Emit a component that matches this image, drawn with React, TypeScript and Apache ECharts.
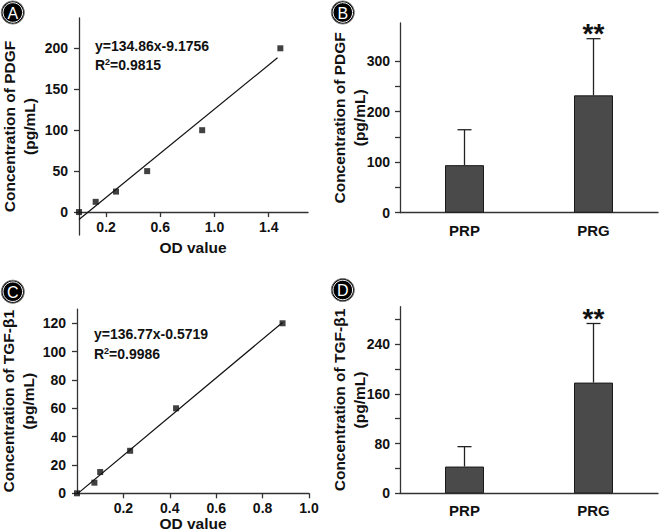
import React, { useEffect, useRef } from "react";
import * as echarts from "echarts";

// Panel A: PDGF standard curve
const pdgfOD = [0, 0.123, 0.273, 0.503, 0.909, 1.486];
const pdgfConc = [0, 12.5, 25, 50, 100, 200];
const pdgfFitOD = [0, 1.465];
const pdgfFitConc = [-9.18, 188.4];
const pdgfEquation = "y=134.86x-9.1756";
const pdgfR2 = "0.9815";
const pdgfXTicks = [0.2, 0.6, 1.0, 1.4];
const pdgfYTicks = [0, 50, 100, 150, 200];

// Panel C: TGF-β1 standard curve
const tgfOD = [0, 0.075, 0.1, 0.229, 0.427, 0.886];
const tgfConc = [0, 7.5, 15, 30, 60, 120];
const tgfFitOD = [0, 0.886];
const tgfFitConc = [-0.57, 120.6];
const tgfEquation = "y=136.77x-0.5719";
const tgfR2 = "0.9986";
const tgfXTicks = [0.2, 0.4, 0.6, 0.8, 1.0];
const tgfYTicks = [0, 20, 40, 60, 80, 100, 120];

// Panels B and D: bars
const groups = ["PRP", "PRG"];
const pdgfMean = [94, 232];
const pdgfSD = [70, 112];
const tgfMean = [43, 178];
const tgfSD = [32, 95];
const significance = ["", "**"];
const pdgfBarTicks = [0, 50, 100, 150, 200, 250, 300];
const pdgfBarLabels = [0, 100, 200, 300];
const tgfBarTicks = [0, 40, 80, 120, 160, 200, 240, 280];
const tgfBarLabels = [0, 80, 160, 240];

const xTitle = "OD value";

const FONT = '"Liberation Sans", Arial, sans-serif';
const TXT = "#111";
const AX = "#333";

const axisLine = { show: true, onZero: true, lineStyle: { color: AX, width: 1.3 } };
const tickStyle = (vals: number[]) => ({ show: true, length: 5, customValues: vals, lineStyle: { color: AX, width: 1.3 } });
const labelStyle = (vals: number[] | null, margin: number, fmt?: (v: number) => string) => {
  const o: any = { color: TXT, fontFamily: FONT, fontWeight: "bold", fontSize: 14, margin };
  if (vals) o.customValues = vals;
  if (fmt) o.formatter = fmt;
  return o;
};
const nameStyle = { color: TXT, fontFamily: FONT, fontWeight: "bold", fontSize: 15.5 };
const yNameStyle = { color: TXT, fontFamily: FONT, fontWeight: "bold", fontSize: 15.5, lineHeight: 20 };

function errorSeries(xIdx: number, yIdx: number, mean: number[], sd: number[]) {
  return {
    type: "custom",
    xAxisIndex: xIdx,
    yAxisIndex: yIdx,
    z: 3,
    data: groups.map((g, i) => [i, mean[i], sd[i]]),
    renderItem: (params: any, api: any) => {
      const i = params.dataIndex;
      const m = api.value(1);
      const e = api.value(2);
      const base = api.coord([i, m]);
      const top = api.coord([i, m + e]);
      const st = { stroke: "#222", lineWidth: 1.3 };
      const children: any[] = [
        { type: "line", shape: { x1: base[0], y1: base[1], x2: top[0], y2: top[1] }, style: st },
        { type: "line", shape: { x1: top[0] - 7, y1: top[1], x2: top[0] + 7, y2: top[1] }, style: st },
      ];
      if (significance[i]) {
        children.push({
          type: "text",
          x: top[0],
          y: top[1] - 5,
          style: { text: significance[i], font: `bold 28px ${FONT}`, fill: TXT, align: "center", verticalAlign: "middle" },
        });
      }
      return { type: "group", children };
    },
  };
}

function panelLabel(letter: string, cx: number, cy: number) {
  return {
    type: "group",
    children: [
      { type: "circle", shape: { cx, cy, r: 11.5 }, style: { fill: "#000", stroke: "#777", lineWidth: 1 } },
      { type: "circle", shape: { cx, cy, r: 9.8 }, style: { fill: "none", stroke: "#fff", lineWidth: 1 } },
      { type: "text", x: cx, y: cy + 0.5, style: { text: letter, font: `16px ${FONT}`, fill: "#fff", align: "center", verticalAlign: "middle" } },
    ],
  };
}

function equationText(eq: string, r2: string, x: number, y: number) {
  return [
    { type: "text", x, y, style: { text: eq, font: `bold 14px ${FONT}`, fill: TXT, verticalAlign: "middle" } },
    {
      type: "text",
      x,
      y: y + 19.5,
      style: {
        text: `{a|R}{s|2}{a|=${r2}}`,
        verticalAlign: "middle",
        rich: {
          a: { fontFamily: FONT, fontWeight: "bold", fontSize: 14, fill: TXT, color: TXT },
          s: { fontFamily: FONT, fontWeight: "bold", fontSize: 9, fill: TXT, color: TXT, verticalAlign: "top", padding: [0, 0, 6, 0] },
        },
      },
    },
  ];
}

export default function App() {
  const ref = useRef<HTMLDivElement>(null);
  useEffect(() => {
    if (!ref.current) return;
    const chart = echarts.init(ref.current, null, { renderer: "svg" });
    const fmt1 = (v: number) => v.toFixed(1);
    const option: any = {
      animation: false,
      backgroundColor: "#fff",
      grid: [
        { left: 79, top: 18, width: 229, height: 217, outerBoundsMode: "none", containLabel: false },
        { left: 400, top: 23, width: 258, height: 189.7, outerBoundsMode: "none", containLabel: false },
        { left: 77, top: 309.1, width: 232, height: 184.2, outerBoundsMode: "none", containLabel: false },
        { left: 400, top: 306.7, width: 258, height: 186.6, outerBoundsMode: "none", containLabel: false },
      ],
      xAxis: [
        {
          gridIndex: 0, type: "value", min: 0, max: 1.69, position: "bottom", offset: -22.9,
          axisLine: { ...axisLine, onZero: false }, axisTick: tickStyle(pdgfXTicks), axisLabel: labelStyle(pdgfXTicks, 8, fmt1), splitLine: { show: false },
        },
        {
          gridIndex: 1, type: "category", data: groups, boundaryGap: true,
          axisLine, axisTick: { show: false }, axisLabel: { ...labelStyle(null, 10), fontSize: 15 },
        },
        {
          gridIndex: 2, type: "value", min: 0, max: 1.0,
          axisLine, axisTick: tickStyle(tgfXTicks), axisLabel: labelStyle(tgfXTicks, 8, fmt1), splitLine: { show: false },
          name: xTitle, nameLocation: "middle", nameGap: 22, nameMoveOverlap: false, nameTextStyle: nameStyle,
        },
        {
          gridIndex: 3, type: "category", data: groups, boundaryGap: true,
          axisLine, axisTick: { show: false }, axisLabel: { ...labelStyle(null, 10), fontSize: 15 },
        },
      ],
      yAxis: [
        {
          gridIndex: 0, type: "value", min: -28, max: 237,
          axisLine, axisTick: tickStyle(pdgfYTicks), axisLabel: labelStyle(pdgfYTicks, 11), splitLine: { show: false },
          name: "Concentration of PDGF\n(pg/mL)", nameLocation: "middle", nameGap: 40, nameMoveOverlap: false, nameTextStyle: yNameStyle,
        },
        {
          gridIndex: 1, type: "value", min: 0, max: 375,
          axisLine, axisTick: tickStyle(pdgfBarTicks), axisLabel: labelStyle(pdgfBarLabels, 10), splitLine: { show: false },
          name: "Concentration of PDGF\n(pg/mL)", nameLocation: "middle", nameGap: 30.5, nameMoveOverlap: false, nameTextStyle: yNameStyle,
        },
        {
          gridIndex: 2, type: "value", min: 0, max: 130,
          axisLine, axisTick: tickStyle(tgfYTicks), axisLabel: labelStyle(tgfYTicks, 11), splitLine: { show: false },
          name: "Concentration of TGF-β1\n(pg/mL)", nameLocation: "middle", nameGap: 39, nameMoveOverlap: false, nameTextStyle: yNameStyle,
        },
        {
          gridIndex: 3, type: "value", min: 0, max: 300,
          axisLine, axisTick: tickStyle(tgfBarTicks), axisLabel: labelStyle(tgfBarLabels, 10), splitLine: { show: false },
          name: "Concentration of TGF-β1\n(pg/mL)", nameLocation: "middle", nameGap: 31, nameMoveOverlap: false, nameTextStyle: yNameStyle,
        },
      ],
      series: [
        {
          type: "line", xAxisIndex: 0, yAxisIndex: 0, showSymbol: false, symbol: "none",
          data: pdgfFitOD.map((x, i) => [x, pdgfFitConc[i]]),
          lineStyle: { color: "#111", width: 1.2 }, z: 2,
        },
        {
          type: "scatter", xAxisIndex: 0, yAxisIndex: 0, symbol: "rect", symbolSize: 6,
          data: pdgfOD.map((x, i) => [x, pdgfConc[i]]), itemStyle: { color: "#111" }, z: 3,
        },
        {
          type: "bar", xAxisIndex: 1, yAxisIndex: 1, barWidth: 39,
          data: pdgfMean, itemStyle: { color: "#4a4a4a", borderColor: "#1a1a1a", borderWidth: 1 },
        },
        errorSeries(1, 1, pdgfMean, pdgfSD),
        {
          type: "line", xAxisIndex: 2, yAxisIndex: 2, showSymbol: false, symbol: "none",
          data: tgfFitOD.map((x, i) => [x, tgfFitConc[i]]),
          lineStyle: { color: "#111", width: 1.2 }, z: 2,
        },
        {
          type: "scatter", xAxisIndex: 2, yAxisIndex: 2, symbol: "rect", symbolSize: 6,
          data: tgfOD.map((x, i) => [x, tgfConc[i]]), itemStyle: { color: "#111" }, z: 3,
        },
        {
          type: "bar", xAxisIndex: 3, yAxisIndex: 3, barWidth: 39,
          data: tgfMean, itemStyle: { color: "#4a4a4a", borderColor: "#1a1a1a", borderWidth: 1 },
        },
        errorSeries(3, 3, tgfMean, tgfSD),
      ],
      graphic: [
        panelLabel("A", 12.8, 12.5),
        panelLabel("B", 342.8, 12.5),
        panelLabel("C", 12.8, 291.7),
        panelLabel("D", 342.8, 290),
        ...equationText(pdgfEquation, pdgfR2, 95, 45.6),
        ...equationText(tgfEquation, tgfR2, 94, 334.3),
        {
          type: "text", x: 193, y: 247,
          style: { text: xTitle, font: `bold 15.5px ${FONT}`, fill: TXT, align: "center", verticalAlign: "middle" },
        },
      ],
    };
    chart.setOption(option);
    return () => chart.dispose();
  }, []);
  return <div ref={ref} style={{ position: "fixed", left: 0, top: 0, width: 661, height: 532, background: "#fff" }} />;
}
